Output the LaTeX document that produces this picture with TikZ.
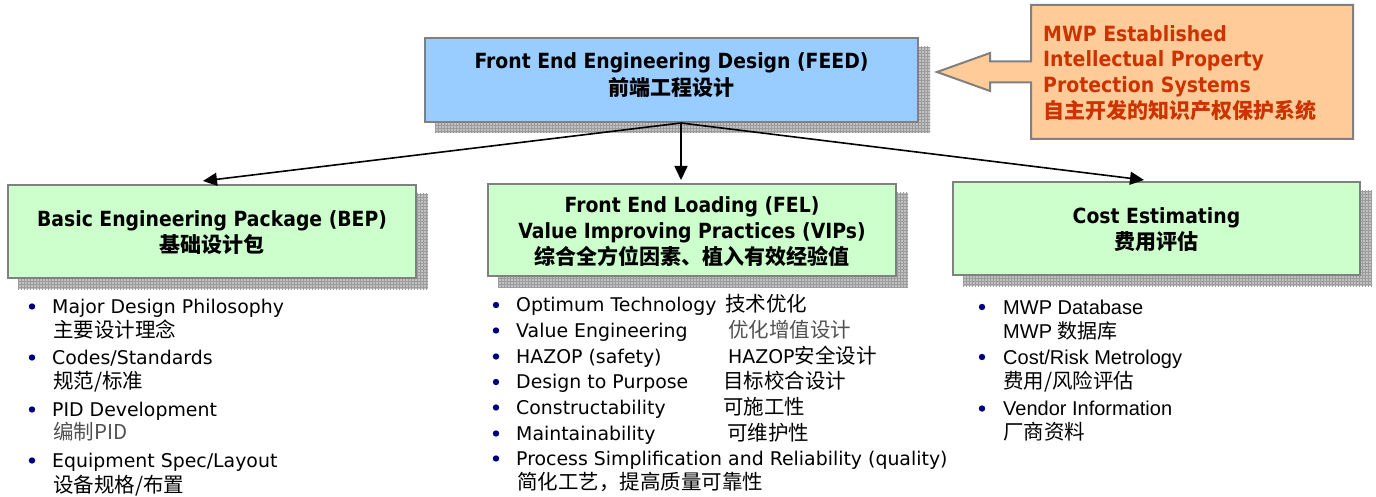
\documentclass[tikz,border=0pt]{standalone}
\usepackage{fontspec}
\setmainfont{DejaVu Sans}
\newfontfamily\titlef[FakeStretch=0.9]{DejaVu Sans}
\newfontfamily\cjk{Noto Sans CJK SC}
\newfontfamily\arialf{Liberation Sans}
\usetikzlibrary{arrows.meta,backgrounds,patterns,calc}
\definecolor{feedblue}{HTML}{99CCFF}
\definecolor{boxgreen}{HTML}{CCFFCC}
\definecolor{calloutorange}{HTML}{FFCC99}
\definecolor{bordergray}{HTML}{808080}
\definecolor{bulletnavy}{HTML}{000080}
\definecolor{iporange}{HTML}{CC3300}
\definecolor{shfill}{HTML}{C0C0C0}
\definecolor{shline}{HTML}{9C9C9C}
\definecolor{softgray}{HTML}{505050}
\begin{document}
\begin{tikzpicture}[x=1pt,y=-1pt,
  box/.style={draw=bordergray, line width=2pt, inner sep=0pt},
  title/.style={font=\titlef\bfseries\fontsize{20.9}{24}\selectfont, inner sep=0pt, anchor=base},
  ctitle/.style={font=\cjk\bfseries\fontsize{21}{24}\selectfont, inner sep=0pt, anchor=base},
  item/.style={font=\fontsize{18.9}{22}\selectfont, inner sep=0pt, anchor=base west},
  citem/.style={font=\cjk\fontsize{20.5}{24}\selectfont, inner sep=0pt, anchor=base west},
  ritem/.style={font=\arialf\fontsize{20}{24}\selectfont, inner sep=0pt, anchor=base west},
  iptext/.style={font=\titlef\bfseries\fontsize{21}{24}\selectfont, text=iporange, inner sep=0pt, anchor=base west},
  conn/.style={line width=1.6pt, -{Triangle[length=14pt,width=13pt]}}
]
\useasboundingbox (0,0) rectangle (1376,497);

% boxes
\node[box, fill=feedblue, minimum width=493pt, minimum height=84pt] (feed) at (671.5,80) {};
\node[box, fill=boxgreen, minimum width=408pt, minimum height=93pt] (bep) at (212,231.5) {};
\node[box, fill=boxgreen, minimum width=408pt, minimum height=92pt] (fel) at (692,230) {};
\node[box, fill=boxgreen, minimum width=407pt, minimum height=93pt] (cost) at (1156.5,228.5) {};

% shadows
\begin{scope}[on background layer]
\foreach \b in {feed,bep,fel,cost}{
  \fill[shfill] ([shift={(11,10)}]\b.south west) rectangle ([shift={(11,10)}]\b.north east);
  \fill[pattern=grid, pattern color=shline] ([shift={(11,10)}]\b.south west) rectangle ([shift={(11,10)}]\b.north east);
}
\end{scope}

% box titles
\node[title] (feedt1) at (671.5,69) {Front End Engineering Design (FEED)};
\node[ctitle] (feedt2) at (671.5,96) {前端工程设计};
\node[title] (bept1) at (212,227) {Basic Engineering Package (BEP)};
\node[ctitle] (bept2) at (212,252.5) {基础设计包};
\node[title] (felt1) at (692,213) {Front End Loading (FEL)};
\node[title] (felt2) at (692,238) {Value Improving Practices (VIPs)};
\node[ctitle] (felt3) at (692,265) {综合全方位因素、植入有效经验值};
\node[title] (costt1) at (1156.5,223) {Cost Estimating};
\node[ctitle] (costt2) at (1156.5,249) {费用评估};

% callout
\filldraw[fill=calloutorange, draw=bordergray, line width=2pt, line join=miter]
  (1031,5) -- (1353,5) -- (1353,139) -- (1031,139) -- (1031,82.5) -- (990,82.5)
  -- (990,91) -- (937,72) -- (990,53) -- (990,61.5) -- (1031,61.5) -- cycle;
\node[iptext] (ip1) at (1043,42) {MWP Established};
\node[iptext] (ip2) at (1043,67) {Intellectual Property};
\node[iptext] (ip3) at (1043,93) {Protection Systems};
\node[iptext, font=\cjk\bfseries\fontsize{21}{24}\selectfont] (ip4) at (1043,119) {自主开发的知识产权保护系统};

% connectors
\coordinate (fo) at ([xshift=9.5pt]feed.south);
\draw[conn] (fo) -- ([xshift=-9pt,yshift=3pt]bep.north);
\draw[conn] (fo) -- ([xshift=-11pt,yshift=3pt]fel.north);
\draw[conn] (fo) -- ([xshift=-12.5pt,yshift=1pt]cost.north);

% left column
\node[item] (l1) at (52,313) {Major Design Philosophy};
\node[citem] (l1c) at (53,337.5) {主要设计理念};
\node[item] (l2) at (52,364) {Codes/Standards};
\node[citem] (l2c) at (53,388) {规范/标准};
\node[item] (l3) at (52,416) {PID Development};
\node[citem, text=softgray] (l3c) at (53,439) {编制PID};
\node[item] (l4) at (52,467) {Equipment Spec/Layout};
\node[citem] (l4c) at (53,492.5) {设备规格/布置};

% middle column
\node[item] (m1) at (516,311.5) {Optimum Technology};
\node[citem] (m1c) at (725,311.5) {技术优化};
\node[item] (m2) at (516,337) {Value Engineering};
\node[citem, text=softgray] (m2c) at (728,337) {优化增值设计};
\node[item] (m3) at (516,363) {HAZOP (safety)};
\node[item] (m3c) at (728,363) {HAZOP{\cjk\fontsize{20.5}{24}\selectfont 安全设计}};
\node[item] (m4) at (516,388.5) {Design to Purpose};
\node[citem] (m4c) at (723,388.5) {目标校合设计};
\node[item] (m5) at (516,414) {Constructability};
\node[citem] (m5c) at (723,414) {可施工性};
\node[item] (m6) at (516,440) {Maintainability};
\node[citem] (m6c) at (727,440) {可维护性};
\node[item] (m7) at (516,465) {Process Simplification and Reliability (quality)};
\node[citem] (m7c) at (517,489.5) {简化工艺，提高质量可靠性};

% right column
\node[ritem] (r1) at (1003,314) {MWP Database};
\node[ritem] (r1c) at (1003,338) {MWP {\cjk 数据库}};
\node[ritem] (r2) at (1003,364) {Cost/Risk Metrology};
\node[citem] (r2c) at (1003,388) {费用/风险评估};
\node[ritem] (r3) at (1003,415.5) {Vendor Information};
\node[citem] (r3c) at (1003,439) {厂商资料};

% bullets
\foreach \n in {l1,l2,l3,l4,m1,m2,m3,m4,m5,m6,m7}{
  \fill[bulletnavy] ($(\n.base west)+(-20,-6.5)$) circle[radius=3.2pt];
}
\foreach \n in {r1,r2,r3}{
  \fill[bulletnavy] ($(\n.base west)+(-21,-7)$) circle[radius=3.2pt];
}
\end{tikzpicture}
\end{document}
